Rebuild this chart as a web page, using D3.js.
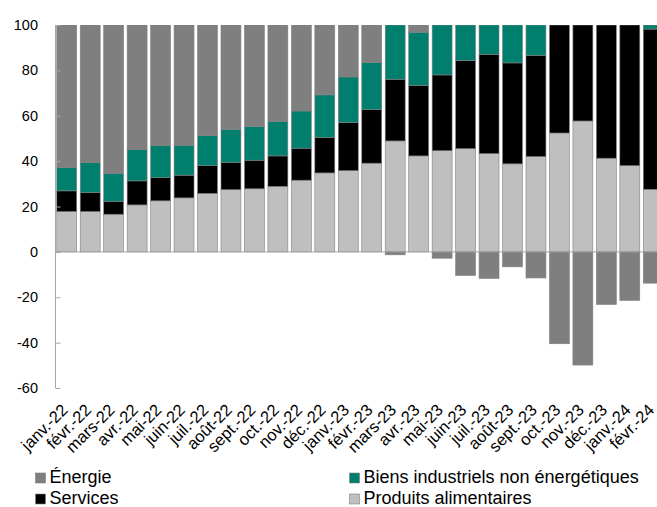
<!DOCTYPE html>
<html>
<head>
<meta charset="utf-8">
<script src="https://cdn.jsdelivr.net/npm/d3@7"></script>
<style>
  body { margin: 0; background: #fff; }
  svg { display: block; font-family: "Liberation Sans", Arial, sans-serif; }
</style>
</head>
<body>
<svg id="chart"></svg>
<script>
// months shown on the x axis
var months = ["janv.-22", "févr.-22", "mars-22", "avr.-22", "mai-22", "juin-22", "juil.-22",
  "août-22", "sept.-22", "oct.-22", "nov.-22", "déc.-22", "janv.-23", "févr.-23", "mars-23",
  "avr.-23", "mai-23", "juin-23", "juil.-23", "août-23", "sept.-23", "oct.-23", "nov.-23",
  "déc.-23", "janv.-24", "févr.-24"];

// contributions (%)
var alimentaires = [17.8, 17.8, 16.6, 20.7, 22.5, 23.8, 25.8, 27.4, 27.8, 28.9, 31.6, 34.8, 35.8,
  39.1, 48.9, 42.3, 44.6, 45.5, 43.3, 38.8, 42.0, 52.4, 57.7, 41.3, 38.0, 27.6];
var services = [9.1, 8.3, 5.7, 10.6, 10.2, 10.0, 12.2, 12.1, 12.6, 13.4, 14.1, 15.7, 21.2,
  23.6, 27.2, 31.1, 33.4, 38.8, 43.8, 44.5, 44.6, 47.6, 42.3, 58.7, 62.0, 70.6];
var biens = [10.2, 13.3, 12.2, 13.8, 14.1, 13.2, 13.2, 14.4, 14.8, 15.1, 16.4, 18.7, 20.1,
  20.7, 23.9, 23.4, 22.0, 15.7, 12.9, 16.7, 13.4, 0, 0, 0, 0, 1.8];
var energie = [62.9, 60.6, 65.5, 54.9, 53.2, 53.0, 48.8, 46.1, 44.8, 42.6, 37.9, 30.8, 22.9,
  16.6, -1.3, 3.2, -2.8, -10.4, -11.7, -6.6, -11.5, -40.5, -49.9, -23.2, -21.4, -13.8];

var yTicks = [-60, -40, -20, 0, 20, 40, 60, 80, 100];

var keys = ["alimentaires", "services", "biens", "energie"];
var colors = {alimentaires: "#bfbfbf", services: "#000000", biens: "#007f6f", energie: "#7f7f7f"};

// legend layout: two columns
var legendItems = [
  {key: "energie", label: "Énergie", col: 0, row: 0},
  {key: "biens", label: "Biens industriels non énergétiques", col: 1, row: 0},
  {key: "services", label: "Services", col: 0, row: 1},
  {key: "alimentaires", label: "Produits alimentaires", col: 1, row: 1}
];

var w = 657;
var h = 507;

var table = months.map(function (m, i) {
  return {month: m, alimentaires: alimentaires[i], services: services[i],
    biens: biens[i], energie: energie[i]};
});

var svg = d3.select("#chart").attr("width", w).attr("height", h);

var x = d3.scaleBand()
  .domain(months)
  .range([55, 665])
  .paddingInner(0.15)
  .paddingOuter(0.075);

var y = d3.scaleLinear()
  .domain([-60, 100])
  .range([388, 25]);

var series = d3.stack()
  .keys(keys)
  .offset(d3.stackOffsetDiverging)(table);

svg.append("clipPath").attr("id", "plot")
  .append("rect")
  .attr("x", 55).attr("y", y(100))
  .attr("width", w - 55).attr("height", y(-60) - y(100));

var bars = svg.append("g").attr("clip-path", "url(#plot)");

bars.selectAll("g")
  .data(series)
  .enter().append("g")
    .attr("fill", function (d) { return colors[d.key]; })
  .selectAll("rect")
  .data(function (d) { return d; })
  .enter().append("rect")
    .attr("x", function (d) { return x(d.data.month); })
    .attr("y", function (d) { return y(Math.max(d[0], d[1])); })
    .attr("width", x.bandwidth())
    .attr("height", function (d) { return Math.abs(y(d[0]) - y(d[1])); })
    .attr("stroke", "#808080")
    .attr("stroke-width", 0.6);

// x axis line at zero
svg.append("line")
  .attr("x1", 55).attr("x2", w)
  .attr("y1", y(0)).attr("y2", y(0))
  .attr("stroke", "#a6a6a6")
  .attr("stroke-width", 1);

// y axis, ticks pointing inside
var yAxis = d3.axisRight(y)
  .tickValues(yTicks)
  .tickSize(5)
  .tickFormat("");

var yg = svg.append("g")
  .attr("transform", "translate(55.5,0)")
  .call(yAxis);
yg.selectAll("path, line").attr("stroke", "#a6a6a6");
yg.select(".domain").attr("d", "M0," + y(100) + "V" + y(-60));

svg.append("g").selectAll("text")
  .data(yTicks)
  .enter().append("text")
    .attr("x", 38)
    .attr("y", function (d) { return y(d); })
    .attr("dy", "0.35em")
    .attr("text-anchor", "end")
    .attr("font-size", 14.5)
    .attr("fill", "#000")
    .text(function (d) { return d; });

// rotated month labels
svg.append("g").selectAll("text")
  .data(months)
  .enter().append("text")
    .attr("transform", function (d) {
      return "translate(" + (x(d) + x.bandwidth() / 2 + 2) + ",411) rotate(-45)";
    })
    .attr("text-anchor", "end")
    .attr("font-size", 16.5)
    .attr("fill", "#000")
    .text(function (d) { return d; });

var legend = svg.append("g").selectAll("g")
  .data(legendItems)
  .enter().append("g")
    .attr("transform", function (d) {
      return "translate(" + (d.col ? 349.5 : 35.5) + "," + (d.row ? 504 : 483) + ")";
    });

legend.append("rect")
  .attr("x", 0).attr("y", -10)
  .attr("width", 10).attr("height", 10)
  .attr("fill", function (d) { return colors[d.key]; })
  .attr("stroke", "#808080")
  .attr("stroke-width", 0.6);

legend.append("text")
  .attr("x", 14)
  .attr("y", 0)
  .attr("font-size", 18)
  .attr("fill", "#000")
  .text(function (d) { return d.label; });
</script>
</body>
</html>
